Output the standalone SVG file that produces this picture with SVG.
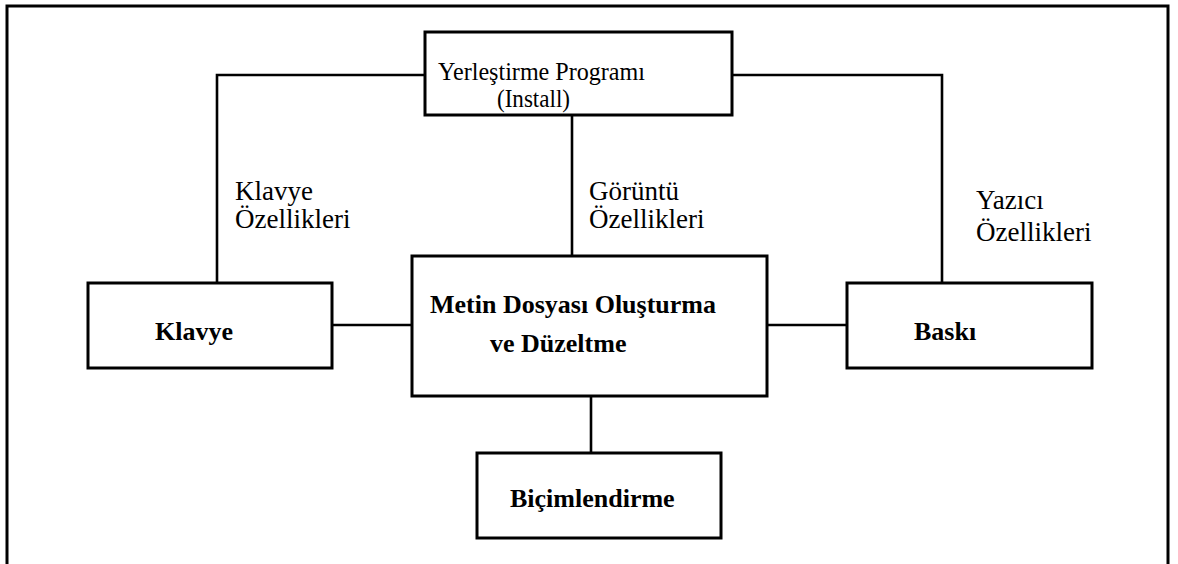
<svg xmlns="http://www.w3.org/2000/svg" width="1178" height="564" viewBox="0 0 1178 564">
  <style>
    .frame { fill: none; stroke: #000; stroke-width: 3; }
    .box { fill: #fff; stroke: #000; stroke-width: 3; }
    .link { fill: none; stroke: #000; stroke-width: 2.6; }
    .lbl { font-family: "Liberation Serif", "Times New Roman", serif; font-size: 27px; fill: #000; }
    .ttl { font-family: "Liberation Serif", "Times New Roman", serif; font-size: 25px; fill: #000; }
    .nt { font-family: "Liberation Serif", "Times New Roman", serif; font-size: 26px; font-weight: bold; fill: #000; }
  </style>
  <rect width="1178" height="564" fill="#fff"/>

  <!-- outer frame, open at the bottom edge of the page -->
  <rect class="frame" x="7" y="6" width="1161" height="600"/>

  <!-- connectors -->
  <g id="connectors">
    <path class="link" d="M425,75 H217 V283"/>
    <path class="link" d="M732,75 H942 V283"/>
    <path class="link" d="M572,115 V256"/>
    <path class="link" d="M332,325 H412"/>
    <path class="link" d="M767,325 H847"/>
    <path class="link" d="M591,396 V453"/>
  </g>

  <!-- connector labels -->
  <g id="labels">
    <text class="lbl" x="235" y="200">Klavye</text>
    <text class="lbl" x="235" y="228">Özellikleri</text>
    <text class="lbl" x="589" y="200">Görüntü</text>
    <text class="lbl" x="589" y="228">Özellikleri</text>
    <text class="lbl" x="976" y="209">Yazıcı</text>
    <text class="lbl" x="976" y="241">Özellikleri</text>
  </g>

  <g id="install">
    <rect class="box" x="425" y="32" width="307" height="83"/>
    <text class="ttl" x="438" y="80" textLength="207" lengthAdjust="spacingAndGlyphs">Yerleştirme Programı</text>
    <text class="ttl" x="497" y="107" textLength="73" lengthAdjust="spacingAndGlyphs">(Install)</text>
  </g>

  <g id="klavye">
    <rect class="box" x="88" y="283" width="244" height="85"/>
    <text class="nt" x="155" y="340">Klavye</text>
  </g>

  <g id="metin">
    <rect class="box" x="412" y="256" width="355" height="140"/>
    <text class="nt" x="430" y="313">Metin Dosyası Oluşturma</text>
    <text class="nt" x="490" y="352">ve Düzeltme</text>
  </g>

  <g id="baski">
    <rect class="box" x="847" y="283" width="245" height="85"/>
    <text class="nt" x="914" y="340">Baskı</text>
  </g>

  <g id="bicimlendirme">
    <rect class="box" x="477" y="453" width="244" height="85"/>
    <text class="nt" x="510" y="507">Biçimlendirme</text>
  </g>
</svg>
